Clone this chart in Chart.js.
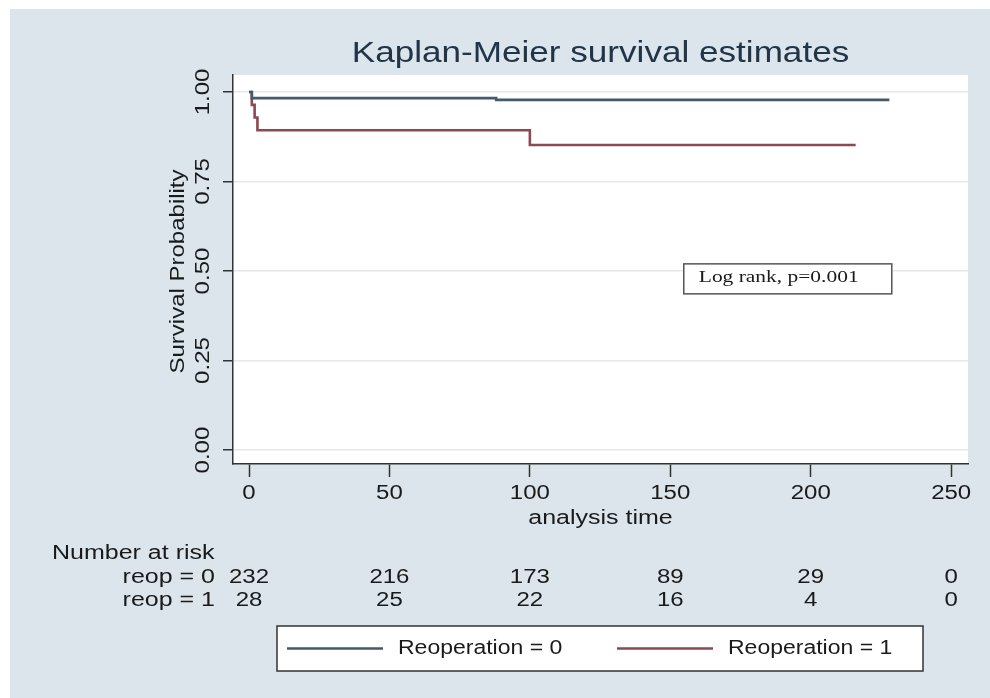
<!DOCTYPE html>
<html lang="en">
<head>
<meta charset="UTF-8">
<title>Kaplan-Meier survival estimates</title>
<script src="https://cdn.jsdelivr.net/npm/chart.js"></script>
<style>
    body {
        margin: 0;
        background: #fff;
    }
    canvas {
        display: block;
    }
</style>
</head>
<body>
<canvas id="kmChart" width="990" height="698"></canvas>
<script>
    // step points of the two survival curves
    const timesReop0 = [0, 1, 88, 228];
    const survReop0 = [1, 0.983, 0.978, 0.978];
    const timesReop1 = [0, 1, 2, 3, 100, 216];
    const survReop1 = [1, 0.964, 0.929, 0.893, 0.852, 0.852];

    const xTicks = [0, 50, 100, 150, 200, 250];
    const yTicks = [0, 0.25, 0.5, 0.75, 1];
    const yTickLabels = ['0.00', '0.25', '0.50', '0.75', '1.00'];

    // number at risk table
    const riskRowLabels = ['reop = 0', 'reop = 1'];
    const riskReop0 = [232, 216, 173, 89, 29, 0];
    const riskReop1 = [28, 25, 22, 16, 4, 0];

    const seriesLabels = ['Reoperation = 0', 'Reoperation = 1'];
    const logRankText = 'Log rank, p=0.001';

    const SANS = '"Liberation Sans", Arial, sans-serif';
    const SERIF = '"Liberation Serif", "Times New Roman", serif';
    const TEXT = '#1a1a1a';

    // text is a little wider than the plain font, so stretch along the baseline
    function txt(ctx, s, x, y, o) {
        o = o || {};
        ctx.save();
        ctx.translate(x, y);
        if (o.rot) ctx.rotate(o.rot);
        ctx.scale(o.sx || 1.2, 1);
        ctx.font = (o.size || 20) + 'px ' + (o.family || SANS);
        ctx.fillStyle = o.color || TEXT;
        ctx.textAlign = o.align || 'center';
        ctx.textBaseline = 'middle';
        ctx.fillText(s, 0, 0);
        ctx.restore();
    }

    const background = {
        id: 'background',
        beforeDraw(chart) {
            const ctx = chart.ctx, a = chart.chartArea;
            ctx.save();
            ctx.fillStyle = '#dbe5eb';
            ctx.fillRect(10, 9, chart.width - 10, chart.height - 9);
            ctx.fillStyle = '#ffffff';
            ctx.fillRect(a.left, a.top, a.right - a.left, a.bottom - a.top);
            ctx.restore();
        }
    };

    const labels = {
        id: 'labels',
        afterDraw(chart) {
            const ctx = chart.ctx, a = chart.chartArea;
            const xs = chart.scales.x, ys = chart.scales.y;

            txt(ctx, 'Kaplan-Meier survival estimates', (a.left + a.right) / 2, 54,
                {size: 30, sx: 1.17, color: '#223447'});

            xTicks.forEach(v => txt(ctx, String(v), xs.getPixelForValue(v), 493));
            txt(ctx, 'analysis time', (a.left + a.right) / 2, 518, {size: 20, sx: 1.25});

            yTicks.forEach((v, i) => txt(ctx, yTickLabels[i], 203, ys.getPixelForValue(v),
                {rot: -Math.PI / 2}));
            txt(ctx, 'Survival Probability', 178, (a.top + a.bottom) / 2 + 2,
                {rot: -Math.PI / 2});

            // log rank note
            const bx = xs.getPixelForValue(154.8), by = ys.getPixelForValue(0.52);
            ctx.save();
            ctx.fillStyle = '#fff';
            ctx.strokeStyle = '#555';
            ctx.lineWidth = 1.5;
            ctx.fillRect(bx, by, 208, 30);
            ctx.strokeRect(bx, by, 208, 30);
            ctx.restore();
            txt(ctx, logRankText, bx + 15, by + 14, {size: 16.5, sx: 1.3, family: SERIF, align: 'left'});

            // number at risk
            txt(ctx, 'Number at risk', 52, 553, {align: 'left', sx: 1.25});
            [riskReop0, riskReop1].forEach((row, r) => {
                const y = 577 + r * 23;
                txt(ctx, riskRowLabels[r], 215, y, {align: 'right', sx: 1.25});
                row.forEach((n, i) => txt(ctx, String(n), xs.getPixelForValue(xTicks[i]), y));
            });

            // legend
            ctx.save();
            ctx.fillStyle = '#fff';
            ctx.strokeStyle = '#333';
            ctx.lineWidth = 1.5;
            ctx.fillRect(277, 626, 646, 45);
            ctx.strokeRect(277, 626, 646, 45);
            const starts = [287, 617];
            chart.data.datasets.forEach((ds, i) => {
                ctx.strokeStyle = ds.borderColor;
                ctx.lineWidth = ds.borderWidth;
                ctx.beginPath();
                ctx.moveTo(starts[i], 648.5);
                ctx.lineTo(starts[i] + 96, 648.5);
                ctx.stroke();
            });
            ctx.restore();
            chart.data.datasets.forEach((ds, i) =>
                txt(ctx, ds.label, starts[i] + 111, 648, {align: 'left', sx: 1.15}));
        }
    };

    const toPoints = (ts, ss) => ts.map((t, i) => ({x: t, y: ss[i]}));

    new Chart(document.getElementById('kmChart'), {
        type: 'line',
        data: {
            datasets: [{
                label: seriesLabels[0],
                data: toPoints(timesReop0, survReop0),
                borderColor: '#44596b',
                borderWidth: 2.6,
                stepped: true,
                pointRadius: 0,
                fill: false
            }, {
                label: seriesLabels[1],
                data: toPoints(timesReop1, survReop1),
                borderColor: '#8a4a4f',
                borderWidth: 2.6,
                stepped: true,
                pointRadius: 0,
                fill: false
            }]
        },
        options: {
            responsive: false,
            animation: false,
            layout: {padding: {left: 233, right: 22, top: 75, bottom: 234}},
            plugins: {
                legend: {display: false},
                tooltip: {enabled: false}
            },
            scales: {
                x: {
                    type: 'linear',
                    min: -5.7,
                    max: 256,
                    afterBuildTicks: s => { s.ticks = xTicks.map(v => ({value: v})); },
                    afterFit: s => { s.height = 0; },
                    ticks: {display: false},
                    grid: {drawOnChartArea: false, tickLength: 13, tickColor: '#333', tickWidth: 1.5},
                    border: {color: '#333', width: 1.5}
                },
                y: {
                    type: 'linear',
                    min: -0.039,
                    max: 1.0475,
                    afterBuildTicks: s => { s.ticks = yTicks.map(v => ({value: v})); },
                    afterFit: s => { s.width = 0; },
                    ticks: {display: false},
                    grid: {color: '#e4e8eb', lineWidth: 1.5, tickLength: 10, tickColor: '#333', tickWidth: 1.5},
                    border: {color: '#333', width: 1.5}
                }
            }
        },
        plugins: [background, labels]
    });
</script>
</body>
</html>
